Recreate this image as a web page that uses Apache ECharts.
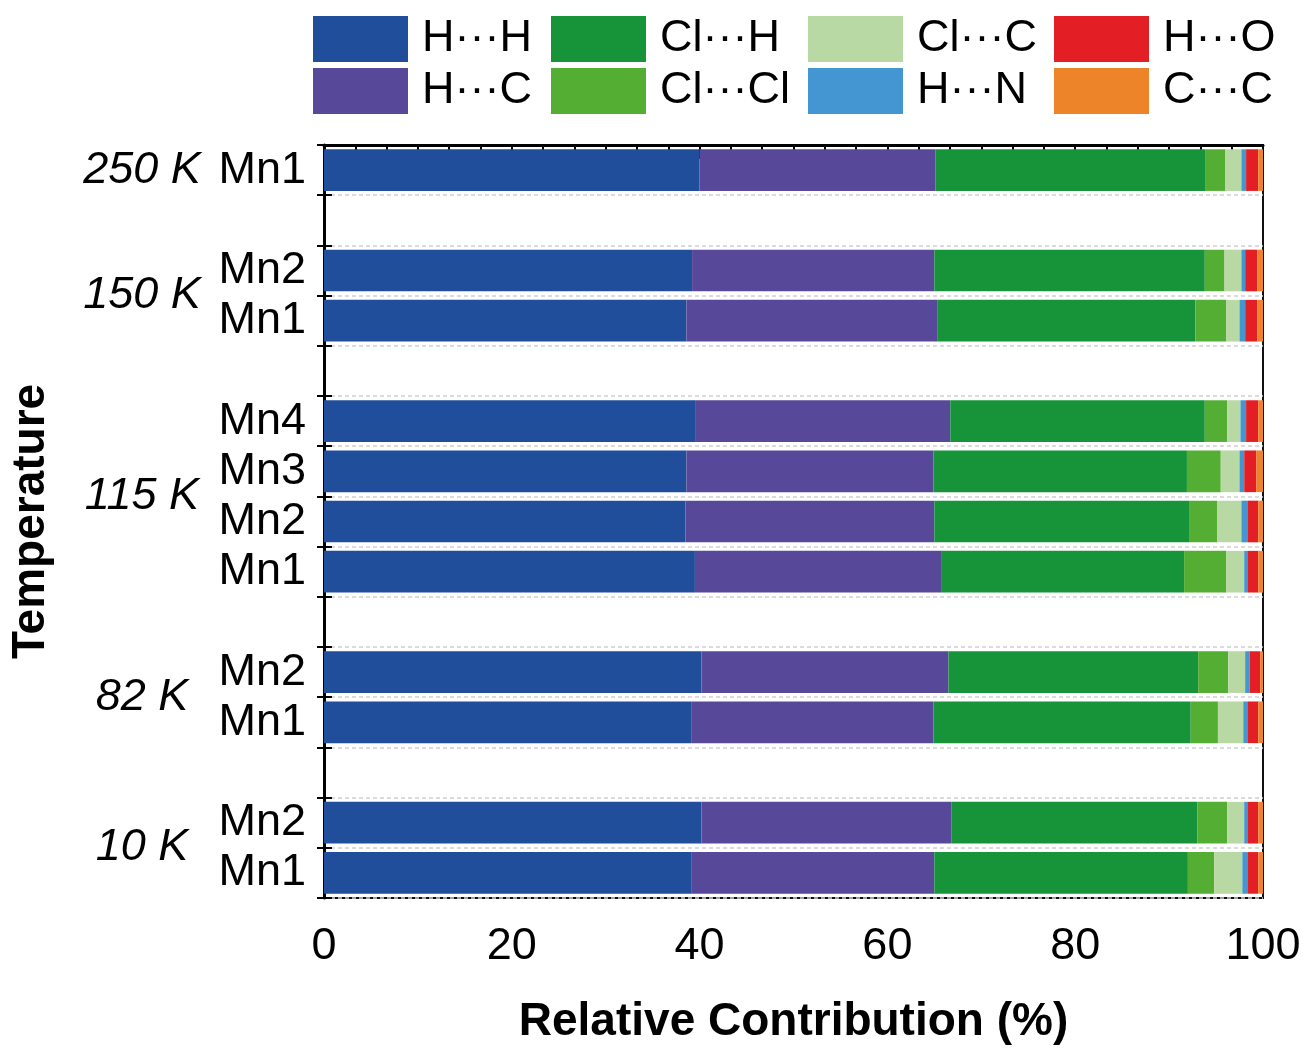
<!DOCTYPE html>
<html>
<head>
<meta charset="utf-8">
<script src="https://cdn.jsdelivr.net/npm/echarts@6/dist/echarts.min.js"></script>
<style>
  html, body { margin: 0; padding: 0; background: #fff; }
  #chart { width: 1306px; height: 1050px; }
</style>
</head>
<body>
<div id="chart"></div>
<script>
// Row slots from top to bottom; 'gap-*' are the spacer rows between temperatures
const rowKeys = ['250K-Mn1', 'gap-a', '150K-Mn2', '150K-Mn1', 'gap-b',
  '115K-Mn4', '115K-Mn3', '115K-Mn2', '115K-Mn1', 'gap-c',
  '82K-Mn2', '82K-Mn1', 'gap-d', '10K-Mn2', '10K-Mn1'];
const rowLabels = ['Mn1', '', 'Mn2', 'Mn1', '', 'Mn4', 'Mn3', 'Mn2', 'Mn1', '', 'Mn2', 'Mn1', '', 'Mn2', 'Mn1'];

// Temperature group labels, placed at slot positions (in row units from the top)
const tempPositions = [0.5, 3, 7, 11, 14];
const tempLabels = ['250 K', '150 K', '115 K', '82 K', '10 K'];

// Relative contributions (%) of each contact type, one value per row slot
const hh   = [40.0, '-', 39.2, 38.6, '-', 39.6, 38.6, 38.5, 39.5, '-', 40.2, 39.1, '-', 40.2, 39.1];
const hc   = [25.1, '-', 25.8, 26.7, '-', 27.1, 26.3, 26.5, 26.3, '-', 26.3, 25.8, '-', 26.6, 25.9];
const clh  = [28.8, '-', 28.8, 27.5, '-', 27.1, 27.0, 27.2, 25.8, '-', 26.6, 27.4, '-', 26.2, 27.0];
const clcl = [2.1,  '-', 2.1,  3.3,  '-', 2.4,  3.6,  2.9,  4.5,  '-', 3.2,  2.9,  '-', 3.2,  2.8];
const clc  = [1.7,  '-', 1.8,  1.4,  '-', 1.4,  2.0,  2.6,  1.9,  '-', 1.8,  2.7,  '-', 1.8,  3.0];
const hn   = [0.5,  '-', 0.4,  0.6,  '-', 0.6,  0.5,  0.7,  0.4,  '-', 0.5,  0.5,  '-', 0.4,  0.6];
const ho   = [1.3,  '-', 1.3,  1.3,  '-', 1.3,  1.3,  1.1,  1.1,  '-', 1.1,  1.1,  '-', 1.1,  1.1];
const cc   = [0.5,  '-', 0.6,  0.6,  '-', 0.5,  0.7,  0.5,  0.5,  '-', 0.3,  0.5,  '-', 0.5,  0.5];

const xTicks = [0, 20, 40, 60, 80, 100];

const seriesNames = ['H···H', 'H···C', 'Cl···H', 'Cl···Cl', 'Cl···C', 'H···N', 'H···O', 'C···C'];
const seriesValues = [hh, hc, clh, clcl, clc, hn, ho, cc];
const seriesColors = ['#214e9b', '#58489a', '#17933a', '#54ae33', '#b8d9a3', '#4396d2', '#e41e25', '#ee8429'];

const FONT = '"Liberation Sans", Arial, Helvetica, sans-serif';

const chart = echarts.init(document.getElementById('chart'));

const legendColumns = [
  { left: 313, data: ['H···H', 'H···C'] },
  { left: 551, data: ['Cl···H', 'Cl···Cl'] },
  { left: 808, data: ['Cl···C', 'H···N'] },
  { left: 1054, data: ['H···O', 'C···C'] }
];

chart.setOption({
  backgroundColor: '#ffffff',
  animation: false,
  textStyle: { fontFamily: FONT },
  legend: legendColumns.map(c => ({
    left: c.left,
    top: 16,
    orient: 'vertical',
    padding: 0,
    itemWidth: 95,
    itemHeight: 46,
    itemGap: 6,
    icon: 'rect',
    selectedMode: false,
    data: c.data,
    textStyle: { fontFamily: FONT, fontSize: 45, color: '#000', padding: [0, 0, 0, 9] }
  })),
  grid: {
    left: 318, right: 43, top: 145, bottom: 138,
    show: true, borderColor: '#111', borderWidth: 2, backgroundColor: 'transparent'
  },
  xAxis: {
    type: 'value',
    min: 0, max: 100, interval: 20,
    name: 'Relative Contribution (%)',
    nameLocation: 'middle',
    nameGap: 101,
    nameTextStyle: { fontFamily: FONT, fontSize: 46, fontWeight: 'bold', color: '#000' },
    axisLine: { show: true, lineStyle: { color: '#000', width: 3 } },
    axisTick: { show: true, length: 14, lineStyle: { color: '#000', width: 2 } },
    minorTick: { show: true, splitNumber: 6, length: 7, lineStyle: { color: '#000', width: 2 } },
    splitLine: { show: false },
    axisLabel: {
      margin: 26, fontFamily: FONT, fontSize: 45, color: '#000',
      formatter: v => (xTicks.indexOf(v) >= 0 ? String(v) : '')
    }
  },
  yAxis: [
    {
      type: 'category',
      data: rowKeys,
      inverse: true,
      position: 'left',
      name: 'Temperature',
      nameLocation: 'middle',
      nameGap: 270,
      nameRotate: 90,
      nameTextStyle: { fontFamily: FONT, fontSize: 46, fontWeight: 'bold', color: '#000' },
      axisLine: { show: true, lineStyle: { color: '#000', width: 3 } },
      axisTick: { show: true, interval: 0, length: 7, lineStyle: { color: '#000', width: 2 } },
      splitLine: { show: true, interval: 0, lineStyle: { color: '#cfcfcf', width: 1.5, type: [4, 3] } },
      axisLabel: {
        interval: 0, margin: 18, fontFamily: FONT, fontSize: 45, color: '#000',
        formatter: (v, i) => rowLabels[i]
      }
    },
    {
      // temperature group labels
      type: 'value',
      min: 0, max: 15, interval: 0.5,
      inverse: true,
      position: 'left',
      axisLine: { show: false },
      axisTick: { show: false },
      splitLine: { show: false },
      axisLabel: {
        margin: 182, align: 'center', fontFamily: FONT, fontSize: 45,
        fontStyle: 'italic', color: '#000',
        formatter: v => {
          const k = tempPositions.indexOf(v);
          return k >= 0 ? tempLabels[k] : '';
        }
      }
    },
    {
      // inward half of the row ticks
      type: 'category',
      data: rowKeys,
      inverse: true,
      position: 'left',
      axisLine: { show: false },
      axisTick: { show: true, inside: true, interval: 0, length: 8, lineStyle: { color: '#000', width: 2 } },
      splitLine: { show: false },
      axisLabel: { show: false }
    }
  ],
  series: seriesNames.map((name, k) => ({
    name,
    type: 'bar',
    stack: 'total',
    yAxisIndex: 0,
    barWidth: '83%',
    itemStyle: { color: seriesColors[k] },
    emphasis: { disabled: true },
    data: seriesValues[k]
  }))
});
</script>
</body>
</html>
